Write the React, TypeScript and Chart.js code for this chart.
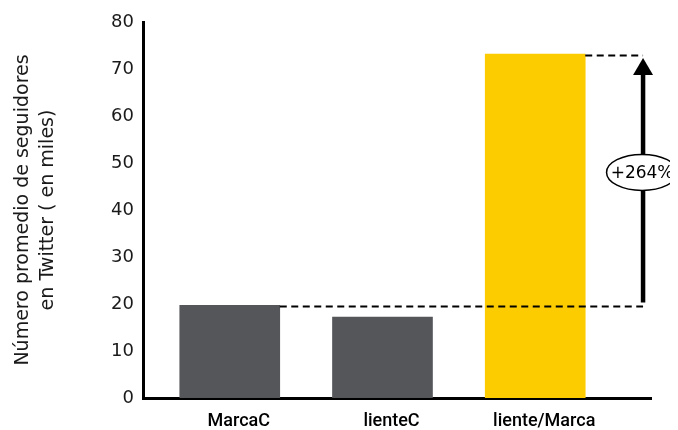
import React, { useEffect, useRef } from 'react';
import { Chart, registerables } from 'chart.js';

Chart.register(...registerables);

const categories = ['MarcaC', 'lienteC', 'liente/Marca'];
const followers = [19.7, 17.2, 73.2];
const barColors = ['#55565a', '#55565a', '#fdcc00'];
const yTitle = ['Número promedio de seguidores', 'en Twitter ( en miles)'];
const growthLabel = '+264%';
const arrowPos = 2.706;
const badgeValue = 48;

const annotations = {
  id: 'annotations',
  afterDatasetsDraw(chart: any) {
    const { ctx, scales } = chart;
    const x = scales.x;
    const y = scales.y;
    const bars = chart.getDatasetMeta(0).data;
    const baseY = y.getPixelForValue(followers[0]) + 1;
    const topY = y.getPixelForValue(followers[2]) + 1.5;
    const ax = x.getPixelForValue(arrowPos);
    const r0 = bars[0].x + bars[0].width / 2;
    const r2 = bars[2].x + bars[2].width / 2;
    ctx.save();
    ctx.strokeStyle = '#000';
    ctx.fillStyle = '#000';
    ctx.lineWidth = 2;
    ctx.setLineDash([7, 4.5]);
    ctx.beginPath();
    ctx.moveTo(r0, baseY);
    ctx.lineTo(ax, baseY);
    ctx.moveTo(r2, topY);
    ctx.lineTo(ax, topY);
    ctx.stroke();
    ctx.setLineDash([]);
    ctx.lineWidth = 4.5;
    ctx.beginPath();
    ctx.moveTo(ax, baseY - 4);
    ctx.lineTo(ax, topY + 16);
    ctx.stroke();
    ctx.beginPath();
    ctx.moveTo(ax, topY + 2.5);
    ctx.lineTo(ax - 10, topY + 19.5);
    ctx.lineTo(ax + 10, topY + 19.5);
    ctx.closePath();
    ctx.fill();
    const ey = y.getPixelForValue(badgeValue);
    ctx.beginPath();
    ctx.ellipse(ax - 1, ey, 35.5, 18, 0, 0, Math.PI * 2);
    ctx.fillStyle = '#fff';
    ctx.fill();
    ctx.lineWidth = 1.5;
    ctx.stroke();
    ctx.fillStyle = '#000';
    ctx.font = '17px "DejaVu Sans"';
    ctx.textAlign = 'center';
    ctx.textBaseline = 'middle';
    ctx.fillText(growthLabel, ax - 1, ey + 1);
    ctx.restore();
  },
};

export default function App() {
  const ref = useRef<HTMLCanvasElement | null>(null);
  useEffect(() => {
    if (!ref.current) return;
    const chart = new Chart(ref.current, {
      type: 'bar',
      data: {
        datasets: [
          {
            data: categories.map((_, i) => ({ x: i, y: followers[i] })),
            backgroundColor: barColors,
            barThickness: 100,
          },
        ],
      },
      options: {
        animation: false,
        responsive: false,
        devicePixelRatio: 1,
        layout: { padding: { top: 22, right: 27, left: 0, bottom: 0 } },
        plugins: { legend: { display: false }, tooltip: { enabled: false } },
        scales: {
          x: {
            type: 'linear',
            offset: false,
            min: -0.568,
            max: 2.758,
            afterBuildTicks: (s: any) => {
              s.ticks = categories.map((_, i) => ({ value: i }));
            },
            afterFit: (s: any) => {
              s.height = 32;
            },
            ticks: {
              callback: (v: any) => categories[v] ?? '',
              font: { family: 'Roboto', size: 18, weight: '500' },
              color: '#000',
              padding: 13,
              labelOffset: 9,
              autoSkip: false,
              maxRotation: 0,
            },
            grid: { display: false, drawTicks: false, offset: false },
            border: { display: true, color: '#000', width: 3 },
          },
          y: {
            min: 0,
            max: 80,
            afterFit: (s: any) => {
              s.width = 143;
            },
            ticks: {
              stepSize: 10,
              font: { family: 'DejaVu Sans', size: 18 },
              color: '#1a1a1a',
              padding: 9,
            },
            grid: { display: false, drawTicks: false },
            border: { display: true, color: '#000', width: 3 },
            title: {
              display: true,
              text: yTitle,
              font: { family: 'DejaVu Sans', size: 19, lineHeight: 1.3 },
              color: '#1a1a1a',
              padding: { top: 11, bottom: 0 },
            },
          },
        },
      },
      plugins: [annotations],
    });
    return () => chart.destroy();
  }, []);
  return (
    <div style={{ position: 'relative', marginLeft: -8, marginTop: -8, width: 678, height: 430 }}>
      <canvas ref={ref} width={678} height={430} style={{ display: 'block', width: 678, height: 430 }} />
    </div>
  );
}
